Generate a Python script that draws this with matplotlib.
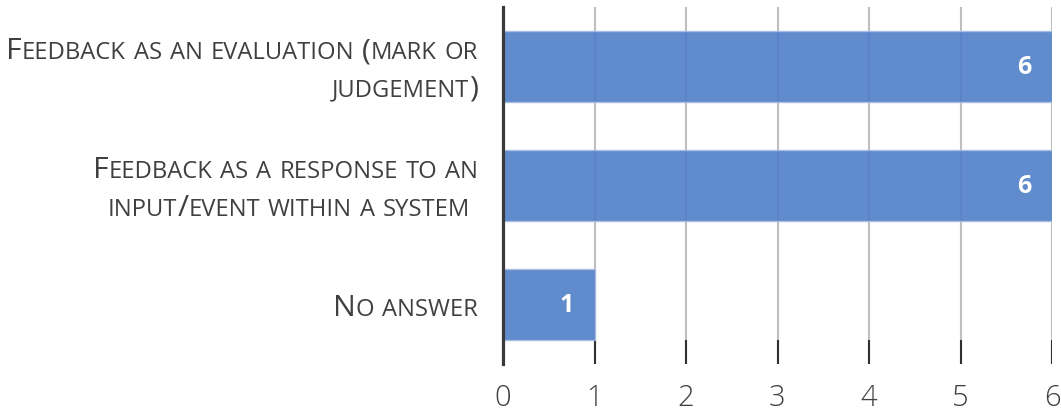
import matplotlib.pyplot as plt

labels = ["Feedback as an evaluation (mark or\njudgement)",
          "Feedback as a response to an\ninput/event within a system ",
          "No answer"]
counts = [6, 6, 1]
xticks = [0, 1, 2, 3, 4, 5, 6]

txt_color = '#404040'
font = 'Open Sans'

fig = plt.figure(figsize=(10.61, 4.14), dpi=100)
ax = fig.add_axes([503 / 1061, 1 - 365 / 414, 549 / 1061, 357 / 414])

ypos = list(range(len(labels)))
ax.barh(ypos, counts, height=0.59, color='#4f7ec8', alpha=0.9,
        edgecolor='#a9bde3', linewidth=1, zorder=2)
ax.set_ylim(len(labels) - 0.5, -0.5)
ax.set_xlim(0, 6)

# grid
for x in xticks[1:]:
    ax.axvline(x, color='#bfbfbf', lw=1.5, zorder=1)
    ax.axvline(x, ymin=0, ymax=0.065, color='#303030', lw=1.5, zorder=1)

for s in ['top', 'right', 'bottom']:
    ax.spines[s].set_visible(False)
ax.spines['left'].set_color('#3a3a3a')
ax.spines['left'].set_linewidth(2.3)
ax.spines['left'].set_zorder(3)

ax.set_xticks(xticks)
ax.set_xticklabels([str(v) for v in xticks], fontsize=21, color=txt_color,
                   family=font, fontweight='light')
ax.tick_params(axis='x', length=0, pad=13)
ax.set_yticks([])

# value labels
for y, v in zip(ypos, counts):
    ax.annotate(str(v), xy=(v, y), xytext=(-20, 0), textcoords='offset points',
                ha='center', va='center', color='white', fontsize=18,
                fontweight='bold', family=font, zorder=4)


# small caps labels drawn piece by piece
def runs(s):
    out = []
    for ch in s:
        small = ch.islower()
        if out and out[-1][1] == small:
            out[-1][0] += ch
        else:
            out.append([ch, small])
    return out


renderer = fig.canvas.get_renderer()
big, smallsz = 21.8, 17.1
line_gap = 27  # points
for y, lab in zip(ypos, labels):
    lines = lab.split('\n')
    n = len(lines)
    for i, line in enumerate(lines):
        dy = -((i - (n - 1) / 2) * line_gap) - 7.5
        pieces = []
        for txt, small in runs(line):
            t = ax.annotate(txt.upper(), xy=(0, y), xycoords=('axes fraction', 'data'),
                            xytext=(0, dy), textcoords='offset points',
                            ha='left', va='baseline', color=txt_color,
                            fontsize=smallsz if small else big,
                            family=font, fontweight='normal', annotation_clip=False)
            pieces.append(t)
        widths = [p.get_window_extent(renderer).width * 72 / fig.dpi for p in pieces]
        total = sum(widths)
        x0 = -18 - total
        for p, w in zip(pieces, widths):
            p.set_position((x0, dy))
            x0 += w

fig.savefig('out.png', dpi=100)
